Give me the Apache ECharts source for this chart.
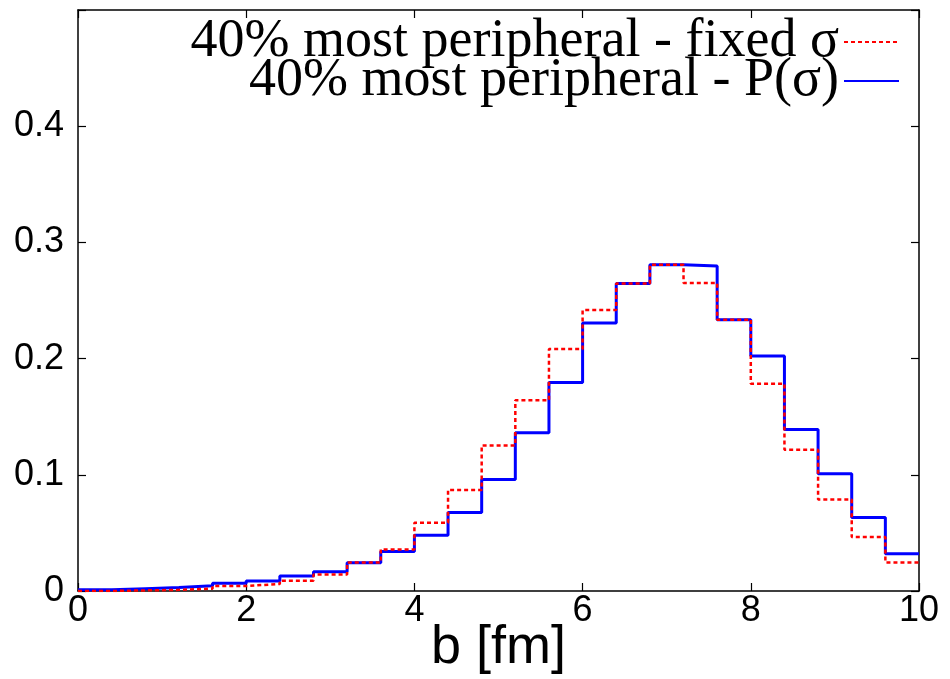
<!DOCTYPE html>
<html>
<head>
<meta charset="utf-8">
<script src="https://cdn.jsdelivr.net/npm/echarts@6/dist/echarts.min.js"></script>
<style>
html,body{margin:0;padding:0;background:#fff;}
#chart{width:950px;height:679px;}
</style>
</head>
<body>
<div id="chart"></div>
<script>
// Bin edges of b [fm]
const bEdges = [0,0.4,0.8,1.2,1.6,2.0,2.4,2.8,3.2,3.6,4.0,4.4,4.8,5.2,5.6,6.0,6.4,6.8,7.2,7.6,8.0,8.4,8.8,9.2,9.6,10];
// 40% most peripheral - fixed sigma
const fixedSigma = [0.0,0.0005,0.001,0.002,0.0043,0.006,0.0089,0.0143,0.0245,0.0358,0.0587,0.087,0.1253,0.1642,0.2083,0.2418,0.2647,0.2807,0.265,0.2335,0.1783,0.1216,0.0787,0.0464,0.0246];
// 40% most peripheral - P(sigma)
const pSigma = [0.001,0.002,0.003,0.0045,0.0066,0.0085,0.0129,0.0166,0.0243,0.034,0.048,0.0675,0.0959,0.1362,0.1795,0.2306,0.2647,0.2807,0.2796,0.2335,0.2023,0.139,0.101,0.0633,0.032];
const nameFixed = '40% most peripheral - fixed σ';
const nameP = '40% most peripheral - P(σ)';

function stepPoints(vals){
  return bEdges.map((x,i)=>[x, vals[Math.min(i, vals.length-1)]]);
}

const chart = echarts.init(document.getElementById('chart'), null, {renderer:'canvas'});
const sansFont = 'Liberation Sans, Arial, sans-serif';
function axisCommon(){
  return {
    axisLine:{show:true, onZero:false, lineStyle:{color:'#000', width:1.5}},
    axisTick:{show:true, inside:true, length:8, lineStyle:{color:'#000', width:1.2}},
    splitLine:{show:false}
  };
}
chart.setOption({
  animation:false,
  backgroundColor:'#fff',
  grid:{left:78, right:31, top:10, bottom:88, containLabel:false, outerBoundsMode:'none'},
  legend:{
    data:[nameFixed, nameP],
    orient:'vertical',
    right:50, top:15,
    padding:0,
    align:'right',
    itemWidth:55, itemHeight:14,
    itemGap:-15,
    itemStyle:{color:'rgba(0,0,0,0)', borderWidth:0, borderColor:'rgba(0,0,0,0)'},
    textStyle:{fontFamily:'Liberation Serif, Times New Roman, serif', fontSize:54, color:'#000', lineHeight:54}
  },
  xAxis:[
    Object.assign({type:'value', min:0, max:10, interval:2, position:'bottom',
      axisLabel:{color:'#000', fontSize:36, fontFamily:sansFont, margin:2},
      name:'b [fm]', nameLocation:'middle', nameGap:30, nameMoveOverlap:false,
      nameTextStyle:{color:'#000', fontSize:54, fontFamily:sansFont}
    }, axisCommon()),
    Object.assign({type:'value', min:0, max:10, interval:2, position:'top',
      axisLabel:{show:false}}, axisCommon())
  ],
  yAxis:[
    Object.assign({type:'value', min:0, max:0.5, interval:0.1, position:'left',
      axisLabel:{color:'#000', fontSize:36, fontFamily:sansFont, margin:14,
        formatter:function(v){ if (v > 0.45) return ''; return v===0 ? '0' : v.toFixed(1); }}
    }, axisCommon()),
    Object.assign({type:'value', min:0, max:0.5, interval:0.1, position:'right',
      axisLabel:{show:false}}, axisCommon())
  ],
  series:[
    {name:nameP, type:'line', step:'end', showSymbol:false, symbol:'none',
      data:stepPoints(pSigma), lineStyle:{color:'#0000ff', width:3}, itemStyle:{color:'#0000ff'}, z:2},
    {name:nameFixed, type:'line', step:'end', showSymbol:false, symbol:'none',
      data:stepPoints(fixedSigma), lineStyle:{color:'#ff0000', width:2.5, type:[4,3]}, itemStyle:{color:'#ff0000'}, z:3}
  ]
});
</script>
</body>
</html>
